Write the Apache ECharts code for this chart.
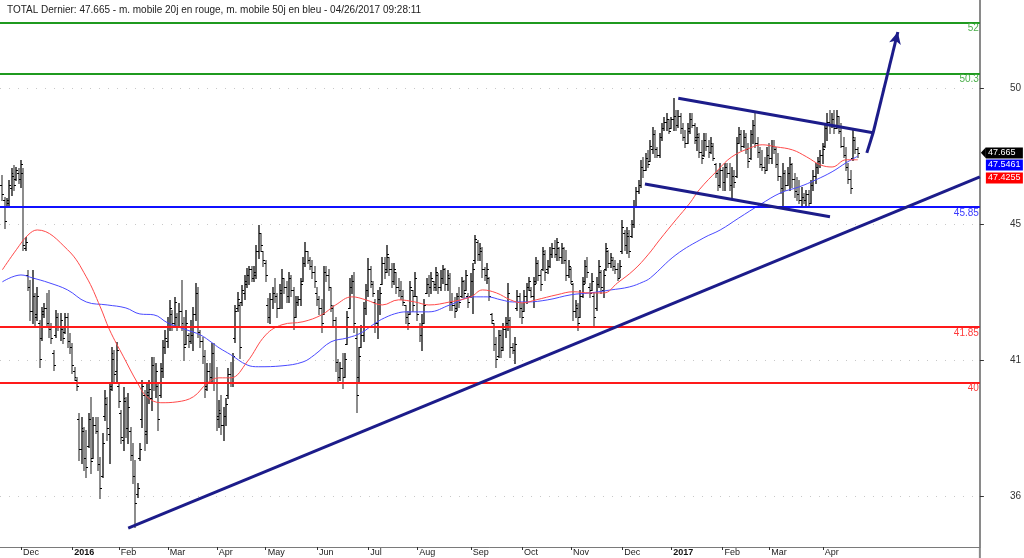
<!DOCTYPE html>
<html><head><meta charset="utf-8">
<script src="https://cdn.jsdelivr.net/npm/echarts@6/dist/echarts.min.js"></script>
<style>html,body{margin:0;padding:0;background:#fff}#c{width:1024px;height:558px}</style>
</head><body><div id="c"></div>
<script>
// ---- DATA ----
const titleText = 'TOTAL Dernier: 47.665 - m. mobile 20j en rouge, m. mobile 50j en bleu - 04/26/2017 09:28:11';
// trading-day index of first session of each month, and its label
const monthIdx = [8, 30, 50, 71, 92, 113, 135, 157, 178, 201, 223, 244, 266, 287, 309, 329, 352];
const monthLbl = ['Dec','2016','Feb','Mar','Apr','May','Jun','Jul','Aug','Sep','Oct','Nov','Dec','2017','Feb','Mar','Apr'];
const yTickValues = [36.22, 40.76, 45.29, 49.83];
const yTickLabels = ['36', '41', '45', '50'];
// daily bars [open, high, low, close], 19 Nov 2015 .. 26 Apr 2017
const ohlc = [
[46.6,46.93,46.09,46.3],[46.1,46.19,45.16,45.4],[45.9,46.16,45.86,46.1],[46.0,46.76,45.93,46.6],[46.5,47.16,46.26,47.0],
[46.9,47.26,46.43,46.6],[46.8,47.19,46.76,47.1],[47.0,47.16,46.66,46.8],[46.8,47.43,46.53,47.3],[47.0,47.16,44.43,44.6],
[44.5,44.86,44.43,44.7],[43.6,43.76,43.09,43.2],[43.2,43.43,42.09,42.4],[42.4,43.76,41.99,43.5],[42.9,42.99,41.86,42.2],
[42.3,43.19,42.09,42.9],[42.0,42.09,40.53,40.8],[41.5,42.53,41.43,42.3],[42.4,42.66,42.19,42.5],[42.5,42.99,41.86,42.0],
[42.0,43.09,41.53,41.8],[41.8,41.99,41.33,41.5],[41.0,41.09,40.43,40.6],[41.6,42.43,41.53,42.2],[42.2,42.33,41.76,41.9],
[41.9,42.33,41.43,42.1],[41.8,41.86,41.33,41.5],[41.7,42.33,41.66,42.2],[42.2,42.33,41.19,41.4],[41.4,41.66,40.99,41.2],
[41.2,41.33,40.33,40.6],[40.4,40.53,40.09,40.2],[40.1,40.19,39.76,39.9],[38.8,38.99,37.43,37.8],[37.8,38.86,37.33,38.5],
[38.4,38.53,37.09,37.5],[37.5,38.43,36.86,37.2],[37.9,38.99,37.86,38.8],[38.8,39.53,36.99,37.4],[37.5,38.86,37.50,38.6],
[38.6,38.86,38.33,38.4],[38.4,38.86,37.09,37.3],[37.3,37.53,36.16,36.5],[36.9,38.33,36.85,38.0],[38.9,39.76,38.76,39.5],
[39.3,39.53,38.09,38.5],[38.3,39.99,37.33,39.8],[39.9,41.19,39.76,41.0],[40.8,41.09,39.99,40.3],[40.4,41.36,39.99,41.1],
[39.9,39.99,39.19,39.4],[39.0,39.09,37.99,38.2],[38.1,39.86,37.76,39.5],[39.4,39.53,38.19,38.5],[38.5,39.66,37.99,39.2],
[38.4,38.53,37.43,37.6],[37.6,37.99,36.66,36.9],[36.9,37.43,35.19,36.0],[36.3,36.66,36.19,36.5],[37.5,37.99,37.43,37.8],
[38.8,40.09,38.53,39.9],[39.6,39.76,37.76,38.3],[38.4,39.99,37.99,39.7],[39.6,40.09,39.33,39.8],[39.5,40.86,39.09,40.6],
[40.6,40.86,39.76,40.0],[40.0,40.66,39.53,40.4],[39.9,39.99,38.43,38.8],[39.6,40.66,39.53,40.5],[40.4,41.43,40.19,41.2],
[41.2,41.76,40.99,41.5],[41.4,42.19,41.19,42.0],[41.9,42.76,41.76,42.5],[42.3,42.43,41.76,42.0],[42.0,42.86,41.86,42.7],
[42.2,42.33,41.76,41.9],[41.9,42.66,41.86,42.4],[42.4,43.43,41.76,42.0],[41.9,42.19,40.76,41.2],[41.3,42.43,41.30,42.0],
[41.6,41.66,41.19,41.4],[41.4,42.09,41.33,41.9],[41.6,42.53,41.09,42.3],[42.3,43.33,42.09,43.0],[43.0,43.19,41.53,41.9],
[41.7,41.76,41.19,41.4],[41.4,41.53,40.66,40.9],[40.9,41.09,39.53,39.8],[39.9,40.66,39.76,40.4],[40.4,40.66,39.99,40.2],
[40.2,41.33,39.99,41.0],[41.0,41.33,39.76,40.0],[40.0,40.53,38.43,38.8],[38.9,39.43,38.53,39.1],[39.0,39.6,38.3,38.6],
[38.6,39.2,38.1,38.9],[38.9,39.5,38.6,39.3],[39.6,40.49,39.49,40.3],[40.3,40.7,39.9,40.0],[40.0,41.0,39.9,40.9],
[41.5,42.6,41.36,42.4],[42.5,43.03,42.4,42.8],[42.6,42.7,40.83,41.2],[42.7,43.26,42.6,43.1],[43.0,43.59,42.8,43.4],
[43.3,43.83,43.2,43.6],[43.6,43.9,43.3,43.8],[43.8,43.9,43.4,43.5],[43.5,43.9,43.4,43.7],[43.6,44.59,43.49,44.4],
[44.4,45.26,44.16,45.0],[45.0,45.0,44.4,44.6],[44.4,44.4,43.9,44.1],[44.0,44.1,43.4,43.6],[42.6,42.83,42.03,42.2],
[42.2,43.0,42.0,42.8],[42.8,43.2,42.5,43.0],[43.0,43.5,42.7,42.9],[42.9,43.0,42.2,42.5],[42.5,43.3,42.5,43.1],
[43.0,43.8,42.5,43.5],[43.5,43.5,43.0,43.2],[43.2,43.4,42.7,42.9],[42.9,43.7,42.7,43.5],[43.5,43.6,42.9,43.1],
[43.1,43.2,41.8,42.2],[42.2,42.9,42.2,42.7],[42.7,42.9,42.6,42.8],[42.8,43.5,42.6,43.3],[43.4,44.2,43.4,44.0],
[44.0,44.7,43.9,44.4],[44.4,44.4,44.0,44.1],[44.1,44.2,43.8,43.9],[43.9,44.1,43.5,43.7],[43.7,43.9,43.2,43.4],
[43.0,43.2,42.6,42.8],[42.8,42.9,42.3,42.5],[42.5,42.8,41.7,42.0],[42.3,43.9,42.3,43.7],[43.7,43.9,43.4,43.6],
[43.6,43.8,43.1,43.2],[43.2,43.2,42.4,42.6],[42.5,42.6,41.9,42.1],[42.1,42.2,40.4,40.7],[40.7,40.8,40.0,40.2],
[40.2,40.7,40.1,40.5],[40.5,41.0,39.83,40.0],[40.2,41.0,40.2,40.8],[41.3,42.4,41.3,42.2],[42.5,43.49,42.5,43.2],
[43.2,43.6,43.0,43.4],[43.4,43.7,41.7,42.0],[41.5,41.9,39.03,39.6],[40.2,41.2,40.0,40.9],[41.2,41.93,41.2,41.6],
[41.6,42.7,41.4,42.5],[42.5,43.3,42.3,43.1],[43.1,44.16,42.9,43.8],[43.8,43.9,43.2,43.4],[43.3,43.4,42.9,43.0],
[42.7,42.8,41.7,42.0],[42.0,43.1,41.5,42.8],[42.8,43.2,42.3,43.0],[43.3,44.2,43.3,44.0],[44.0,44.2,43.5,43.7],
[43.8,44.6,43.7,44.3],[44.2,44.2,43.6,43.8],[43.8,44.0,43.2,43.4],[43.4,44.0,43.3,43.8],[43.7,43.7,43.0,43.2],
[43.2,43.5,42.9,43.1],[43.1,43.4,42.8,42.9],[42.9,43.1,42.6,42.7],[42.6,42.6,42.0,42.2],[42.2,42.4,41.8,42.0],
[42.3,43.4,42.3,43.2],[43.1,43.1,42.4,42.6],[42.9,43.7,42.9,43.5],[42.9,42.9,42.1,42.3],[41.9,42.0,41.4,41.6],
[41.6,42.3,41.1,41.9],[42.0,42.8,42.0,42.6],[43.0,43.5,43.0,43.3],[43.3,43.6,42.9,43.2],[43.2,43.7,43.0,43.5],
[43.4,43.4,43.1,43.2],[43.3,43.86,43.09,43.7],[43.6,43.66,42.99,43.2],[43.2,43.76,43.09,43.5],[43.5,43.93,43.33,43.8],
[43.8,43.83,43.09,43.3],[43.3,43.76,43.09,43.6],[43.5,43.66,42.43,42.7],[42.7,42.99,42.43,42.6],[42.6,42.86,42.19,42.4],
[42.5,42.99,42.43,42.9],[42.9,43.19,42.53,42.7],[42.9,43.53,42.86,43.4],[43.4,43.43,42.86,43.0],[43.1,43.76,43.09,43.6],
[42.9,42.99,42.53,42.7],[42.9,43.66,42.86,43.4],[43.4,43.99,42.33,43.8],[44.1,44.93,43.99,44.8],[44.7,44.76,44.09,44.3],
[44.3,44.66,44.09,44.5],[44.4,44.53,43.53,43.8],[43.8,43.86,43.43,43.6],[43.6,43.99,43.33,43.8],[43.5,43.53,42.76,42.9],
[42.3,42.33,41.99,42.1],[42.0,41.99,41.09,41.3],[41.3,41.53,40.53,40.8],[40.9,41.76,40.86,41.6],[41.6,41.76,40.86,41.1],
[41.2,41.99,41.09,41.8],[41.8,42.19,41.53,42.0],[42.0,43.33,41.76,43.0],[42.1,42.19,40.86,41.2],[41.2,41.33,40.99,41.1],
[41.1,41.53,40.66,41.3],[42.5,43.09,42.43,42.9],[42.9,42.99,42.19,42.5],[42.5,42.66,41.99,42.2],[42.4,43.09,42.40,42.9],
[42.9,43.33,42.66,43.2],[43.2,43.53,43.09,43.4],[43.1,43.19,42.86,42.9],[42.9,43.53,42.53,43.3],[43.4,44.19,43.33,44.0],
[44.0,44.09,43.43,43.6],[43.6,43.76,43.09,43.3],[43.8,44.53,43.76,44.4],[44.3,44.43,43.43,43.7],[43.8,44.09,43.66,43.9],
[43.9,44.53,43.86,44.3],[44.3,44.66,44.19,44.5],[44.5,44.76,44.19,44.3],[44.3,44.83,44.09,44.7],[44.5,44.53,44.09,44.2],
[44.2,44.66,43.99,44.5],[44.5,44.53,43.99,44.1],[44.1,44.43,43.43,43.6],[43.6,44.09,43.53,43.9],[43.8,43.86,43.33,43.4],
[43.3,43.33,42.09,42.4],[42.4,42.76,42.19,42.6],[42.5,42.66,41.76,42.0],[42.2,43.09,42.19,42.9],[42.9,43.53,42.86,43.3],
[43.4,44.09,43.33,43.9],[43.9,44.19,43.53,43.7],[43.2,43.33,42.86,43.0],[43.1,43.66,43.09,43.4],[42.9,42.99,41.86,42.2],
[42.5,43.53,42.43,43.3],[43.3,44.09,43.19,43.9],[43.7,43.76,42.99,43.2],[43.1,43.76,42.86,43.6],[43.8,44.66,43.76,44.5],
[44.4,44.43,43.86,44.0],[44.0,44.33,43.86,44.2],[44.1,44.19,43.76,43.9],[43.9,44.09,43.66,43.8],[43.8,43.99,43.43,43.5],
[43.5,44.09,43.53,43.9],[44.4,45.43,44.33,45.2],[45.0,45.09,44.43,44.6],[44.6,45.19,44.33,45.0],[44.9,45.09,44.19,44.4],
[44.9,45.43,44.86,45.3],[45.3,46.09,45.19,45.9],[45.9,46.53,45.86,46.4],[46.4,46.76,46.33,46.6],[46.6,47.43,46.53,47.2],
[47.2,47.53,46.86,47.1],[47.1,47.66,47.09,47.5],[47.5,47.76,47.19,47.3],[47.4,48.09,47.40,47.9],[47.8,48.53,47.66,48.3],
[48.3,48.43,47.53,47.8],[47.8,47.86,47.53,47.6],[47.6,48.33,47.53,48.2],[48.2,48.66,48.09,48.5],[48.5,48.86,48.43,48.7],
[48.7,48.99,48.43,48.8],[48.8,48.8,48.33,48.4],[48.5,48.86,48.50,48.8],[48.8,49.49,48.43,48.9],[48.9,49.09,48.43,48.6],
[48.6,49.09,48.53,48.9],[48.9,48.99,48.33,48.5],[48.5,48.66,48.09,48.2],[48.2,48.43,47.86,48.0],[48.0,48.66,47.99,48.5],
[48.4,48.99,48.33,48.8],[48.8,48.99,48.53,48.6],[48.6,48.66,47.99,48.2],[48.1,48.53,47.76,48.3],[48.2,48.33,47.53,47.7],
[47.7,48.09,47.33,47.5],[47.6,48.33,47.56,48.1],[48.1,48.33,47.76,47.9],[47.9,48.09,47.53,47.7],[47.7,48.19,47.66,48.0],
[47.9,47.99,47.43,47.5],[47.3,47.33,46.86,47.0],[47.0,47.09,46.43,46.6],[46.6,47.33,46.53,47.1],[47.1,47.19,46.43,46.7],
[46.7,47.33,46.43,47.2],[47.2,47.33,46.86,47.0],[47.0,47.33,46.43,46.6],[46.6,47.19,46.19,46.9],[46.9,47.09,46.53,46.7],
[46.9,48.19,46.86,48.0],[48.0,48.53,47.99,48.3],[48.3,48.43,47.76,47.9],[47.9,48.43,47.86,48.2],[48.2,48.33,47.66,47.8],
[47.8,47.99,47.19,47.4],[47.5,48.43,47.46,48.3],[48.3,48.76,47.99,48.6],[48.6,48.99,47.86,48.0],[48.0,48.19,47.53,47.7],
[47.7,47.86,47.19,47.3],[47.3,47.76,47.09,47.2],[47.2,47.53,46.99,47.1],[47.1,47.86,47.09,47.6],[47.6,47.99,47.33,47.5],
[47.5,48.09,47.33,47.9],[47.9,48.09,47.66,47.8],[47.8,47.86,47.19,47.3],[47.3,47.66,46.76,46.9],[46.9,46.9,46.33,46.5],
[46.5,47.33,45.86,47.0],[47.0,47.09,46.43,46.6],[46.6,47.19,46.59,47.0],[47.0,47.53,46.43,47.3],[47.3,47.33,46.53,46.8],
[46.8,46.99,46.19,46.4],[46.4,46.86,46.09,46.3],[46.3,46.76,45.99,46.1],[46.1,46.53,45.86,46.2],[46.2,46.33,45.99,46.1],
[46.1,46.43,45.86,46.3],[46.3,46.43,45.86,46.0],[46.0,46.76,45.99,46.6],[46.6,47.09,46.43,46.9],[46.9,47.33,46.66,47.2],
[47.2,47.53,46.99,47.4],[47.4,47.76,47.19,47.6],[47.6,47.99,47.33,47.8],[47.9,48.66,47.86,48.5],[48.5,48.99,48.09,48.7],
[48.7,49.09,48.33,48.6],[48.6,48.99,48.53,48.8],[48.8,49.09,48.33,48.5],[48.5,49.09,48.50,48.9],[48.9,48.9,48.33,48.4],
[48.4,48.66,47.86,47.9],[47.9,48.19,47.53,47.6],[47.6,47.86,47.09,47.2],[47.2,47.33,46.66,46.8],[46.8,47.09,46.33,46.5],
[47.5,48.43,47.43,48.2],[48.1,48.19,47.66,47.8],[47.8,47.86,47.53,47.665]
];
// moving averages: [bar index, value]
const ma20 = [[0,43.76],[6,44.43],[11,44.92],[15,45.09],[28,44.43],[36,43.53],[42,42.53],[46,41.76],[52,40.86],[58,39.99],[62,39.53],[68,39.33],[75,39.36],[82,39.53],[88,39.99],[93,40.16],[98,40.16],[105,40.69],[113,41.59],[120,41.93],[129,42.03],[137,42.26],[143,42.59],[150,42.86],[156,42.76],[163,42.59],[170,42.76],[177,42.69],[183,42.59],[192,42.69],[201,42.86],[206,43.09],[212,42.99],[218,42.76],[223,42.66],[229,42.76],[238,42.93],[245,43.03],[252,42.99],[258,42.99],[264,43.33],[271,43.76],[277,44.26],[282,44.76],[289,45.43],[295,45.99],[299,46.43],[307,47.09],[313,47.53],[321,47.83],[326,47.93],[332,47.86],[339,47.76],[345,47.53],[351,47.26],[356,47.19],[362,47.43],[367,47.43]];
const ma50 = [[0,43.36],[8,43.59],[13,43.49],[20,43.33],[28,43.09],[36,42.69],[45,42.59],[53,42.49],[59,42.29],[65,42.26],[71,41.99],[79,41.76],[85,41.59],[90,41.33],[93,41.16],[98,40.93],[105,40.59],[110,40.53],[120,40.56],[129,40.69],[134,40.93],[141,41.36],[148,41.49],[154,41.66],[159,41.93],[164,42.16],[170,42.33],[174,42.36],[183,42.36],[192,42.59],[202,42.86],[208,42.86],[214,42.76],[219,42.69],[225,42.69],[234,42.76],[244,42.93],[252,42.99],[261,43.09],[269,43.19],[275,43.36],[278,43.49],[289,44.26],[301,44.83],[308,45.09],[316,45.49],[325,45.93],[334,46.33],[342,46.53],[349,46.76],[356,47.03],[362,47.33],[367,47.55]];
// horizontal levels
const levelValues = [52, 50.3, 45.85, 41.85, 40];
const levelLabels = ['52', '50.3', '45.85', '41.85', '40'];
// trend lines drawn on the chart: (bar index, price)
const supportLine = [[54.0, 35.15], [419.4, 46.86]];
const channelTop = [[290.0, 49.48], [373.6, 48.33]];
const channelBottom = [[275.7, 46.62], [355.1, 45.53]];
const arrowPath = [[370.9, 47.66], [373.6, 48.33], [384.2, 51.69]];
// last values shown as tags on the right
const tagValues = [47.665, 47.5461, 47.4255];
const tagLabels = ['47.665', '47.5461', '47.4255'];

// ---- CHART ----
const chart = echarts.init(document.getElementById('c'), null, {renderer: 'canvas'});
const FONT = 'Liberation Sans, Arial, sans-serif';
const levelColors = ['#1f9a1f', '#1f9a1f', '#1010ff', '#ff1a1a', '#ff1a1a'];
const levelTextColors = ['#4caf4c', '#4caf4c', '#3a3aff', '#ff3a3a', '#ff3a3a'];
const NAVY = '#1c1c8a';

const barData = ohlc.map((d, i) => [i, d[0], d[1], d[2], d[3]]);

function renderBar(params, api) {
  const x = api.value(0), o = api.value(1), h = api.value(2), l = api.value(3), c = api.value(4);
  const ph = api.coord([x, h]), pl = api.coord([x, l]), po = api.coord([x, o]), pc = api.coord([x, c]);
  const up = c >= o;
  const cx = Math.round(ph[0]);
  const yo = Math.round(po[1]) + 0.5, yc = Math.round(pc[1]) + 0.5;
  return {type: 'group', children: [
    {type: 'line', shape: {x1: cx, y1: Math.round(ph[1]), x2: cx, y2: Math.round(pl[1]) + 1},
     style: {stroke: up ? '#1a1a1a' : '#808080', lineWidth: up ? 1.4 : 1.8}},
    {type: 'line', shape: {x1: cx - 2, y1: yo, x2: cx, y2: yo}, style: {stroke: '#000', lineWidth: 1}},
    {type: 'line', shape: {x1: cx, y1: yc, x2: cx + 2, y2: yc}, style: {stroke: '#000', lineWidth: 1}}
  ]};
}

const levelMarks = levelValues.map((v, k) => ({
  yAxis: v,
  lineStyle: {color: levelColors[k], width: 2, type: 'solid'},
  label: {show: true, position: 'insideEndBottom', formatter: levelLabels[k], color: levelTextColors[k],
          fontSize: 10, fontFamily: FONT, distance: [1, 1]}
}));

function seg(a, b, arrow) {
  return [{coord: a, symbol: 'none'}, {coord: b, symbol: arrow ? 'arrow' : 'none', symbolSize: arrow ? [9, 12] : 0}];
}
const trendMarks = [
  seg(supportLine[0], supportLine[1]),
  seg(channelTop[0], channelTop[1]),
  seg(channelBottom[0], channelBottom[1]),
  seg(arrowPath[0], arrowPath[1]),
  seg(arrowPath[1], arrowPath[2], true)
];

const option = {
  animation: false,
  backgroundColor: '#fff',
  title: {text: titleText, left: 2, top: 0, textStyle: {fontSize: 10, fontWeight: 'normal', color: '#222', fontFamily: FONT}},
  grid: {left: 0, right: 44, top: 0, bottom: 11, containLabel: false},
  xAxis: {
    type: 'value', min: -1.0, max: 419.4,
    axisLine: {show: true, onZero: false, lineStyle: {color: '#7a7a7a', width: 1}},
    axisTick: {show: true, customValues: monthIdx, length: 3, inside: false, lineStyle: {color: '#333'}},
    axisLabel: {
      show: true, customValues: monthIdx, align: 'left', margin: 1, padding: [0, 0, 0, 2],
      fontSize: 9, fontFamily: FONT, color: '#222',
      formatter: v => { const k = monthIdx.indexOf(Math.round(v)); const t = k >= 0 ? monthLbl[k] : ''; return /^\d{4}$/.test(t) ? '{b|' + t + '}' : t; },
      rich: {b: {fontWeight: 'bold', fontSize: 9, fontFamily: FONT, color: '#111'}}
    },
    splitLine: {show: false}
  },
  yAxis: {
    type: 'value', position: 'right', min: 34.52, max: 52.757,
    axisLine: {show: true, onZero: false, lineStyle: {color: '#8a8a8a', width: 2}},
    axisTick: {show: true, customValues: yTickValues, length: 4, inside: false, lineStyle: {color: '#333'}},
    axisLabel: {show: true, customValues: yTickValues, margin: 30, align: 'left', fontSize: 10, fontFamily: FONT, color: '#333',
      formatter: v => { const k = yTickValues.findIndex(t => Math.abs(t - v) < 0.01); return k >= 0 ? yTickLabels[k] : ''; }},
    splitLine: {show: true, lineStyle: {color: '#c8c8c8', width: 1, type: [1, 8]}}
  },
  series: [
    {type: 'line', name: 'ma50', data: ma50, smooth: 0.4, showSymbol: false, lineStyle: {color: '#4a4aff', width: 1}, z: 3,
     markLine: {silent: true, symbol: 'none', animation: false, data: levelMarks}},
    {type: 'line', name: 'ma20', data: ma20, smooth: 0.4, showSymbol: false, lineStyle: {color: '#ff4a4a', width: 1}, z: 3},
    {type: 'custom', name: 'bars', data: barData, renderItem: renderBar, encode: {x: 0, y: [1, 2, 3, 4]}, z: 2},
    {type: 'line', name: 'trend', data: [], z: 5,
     markLine: {silent: true, animation: false, symbol: ['none', 'none'], lineStyle: {color: NAVY, width: 3, type: 'solid'},
       label: {show: false}, data: trendMarks}}
  ]
};
chart.setOption(option);

// price tags to the right of the axis, stacked below the last close
const xR = chart.convertToPixel({xAxisIndex: 0}, 419.4);
const y0 = chart.convertToPixel({yAxisIndex: 0}, tagValues[0]);
const yBottom = chart.convertToPixel({yAxisIndex: 0}, 34.52);
const tagBg = ['#000', '#0000ff', '#ff0000'];
const g = [];
g.push({type: 'line', shape: {x1: xR, y1: yBottom, x2: xR, y2: 558}, style: {stroke: '#8a8a8a', lineWidth: 2}});
g.push({type: 'polygon', shape: {points: [[xR + 1, y0], [xR + 6, y0 - 5.5], [xR + 6, y0 + 5.5]]}, style: {fill: '#000'}});
tagLabels.forEach((t, k) => {
  const yy = Math.round(y0 + k * 12.4);
  g.push({type: 'rect', shape: {x: xR + 6, y: yy - 5.5, width: 37, height: 11}, style: {fill: tagBg[k]}});
  g.push({type: 'text', x: xR + 8, y: yy, style: {text: t, fill: '#fff', font: '9px ' + FONT, verticalAlign: 'middle', align: 'left'}});
});
chart.setOption({graphic: g});
</script>
</body></html>
